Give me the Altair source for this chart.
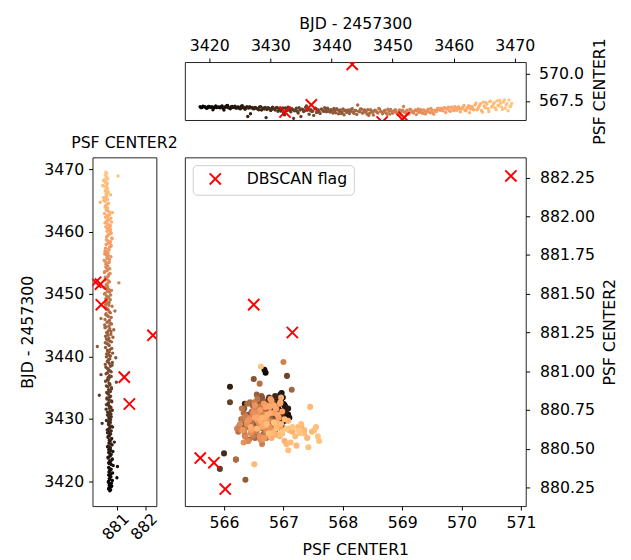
import altair as alt
import pandas as pd

# ---- time series (BJD - 2457300), PSF centre 1 and 2 ----
# first pass of samples
t_a = [3418.5, 3418.8, 3419.1, 3419.4, 3419.7, 3420.0, 3420.3, 3420.6, 3420.9, 3421.2,
       3421.5, 3421.8, 3422.1, 3422.4, 3422.7, 3423.0, 3423.3, 3423.6, 3423.9, 3424.2,
       3424.5, 3424.8, 3425.1, 3425.4, 3425.7, 3426.0, 3426.3, 3426.6, 3426.9, 3427.2,
       3427.5, 3427.8, 3428.1, 3428.4, 3428.7, 3429.0, 3429.3, 3429.6, 3429.9, 3430.2,
       3430.5, 3430.8, 3431.1, 3431.4, 3431.7, 3432.0, 3432.3, 3432.6, 3432.9, 3433.2,
       3433.5, 3433.8, 3434.1, 3434.4, 3434.7, 3435.0, 3435.3, 3435.6, 3435.9, 3436.2,
       3436.5, 3436.8, 3437.1, 3437.4, 3437.7, 3438.0, 3438.3, 3438.6, 3438.9, 3439.2,
       3439.5, 3439.8, 3440.1, 3440.4, 3440.7, 3441.0, 3441.3, 3441.6, 3441.9, 3442.2,
       3442.5, 3442.8, 3443.1, 3443.4, 3443.7, 3444.0, 3444.3, 3444.6, 3444.9, 3445.2,
       3445.5, 3445.8, 3446.1, 3446.4, 3446.7, 3447.0, 3447.3, 3447.6, 3447.9, 3448.2,
       3448.5, 3448.8, 3449.1, 3449.4, 3449.7, 3450.0, 3450.3, 3450.6, 3450.9, 3451.2,
       3451.5, 3451.8, 3452.1, 3452.4, 3452.7, 3453.0, 3453.3, 3453.6, 3453.9, 3454.2,
       3454.5, 3454.8, 3455.1, 3455.4, 3455.7, 3456.0, 3456.3, 3456.6, 3456.9, 3457.2,
       3457.5, 3457.8, 3458.1, 3458.4, 3458.7, 3459.0, 3459.3, 3459.6, 3459.9, 3460.2,
       3460.5, 3460.8, 3461.1, 3461.4, 3461.7, 3462.0, 3462.3, 3462.6, 3462.9, 3463.2,
       3463.5, 3463.8, 3464.1, 3464.4, 3464.7, 3465.0, 3465.3, 3465.6, 3465.9, 3466.2,
       3466.5, 3466.8, 3467.1, 3467.4, 3467.7, 3468.0, 3468.3, 3468.6, 3468.9, 3469.2,
       3469.5]

c1_a = [566.98, 566.92, 567.02, 566.95, 566.88, 567.00, 566.93, 566.70, 566.97, 566.90,
        566.96, 566.89, 567.05, 566.68, 566.94, 567.10, 566.86, 566.99, 566.91, 567.03,
        566.87, 566.95, 566.80, 567.08, 566.92, 566.84, 566.10, 566.98, 566.88, 566.79,
        566.93, 566.83, 566.71, 566.99, 566.86, 566.77, 566.00, 566.90, 566.81, 566.74,
        566.85, 566.68, 566.92, 566.76, 566.60, 566.88, 566.25, 566.72, 566.95, 566.66,
        566.80, 565.93, 566.70, 566.58, 566.89, 566.10, 566.74, 566.63, 567.06, 566.79,
        566.66, 566.55, 566.20, 566.84, 566.71, 566.48, 566.77, 566.62, 566.90, 566.53,
        566.74, 566.50, 566.65, 566.82, 566.43, 566.70, 566.58, 566.36, 566.78, 566.61,
        566.47, 566.69, 566.55, 566.80, 566.38, 566.63, 567.14, 566.52, 566.75, 566.44,
        566.66, 566.33, 566.20, 566.72, 566.49, 566.60, 566.60, 566.41, 566.77, 566.54,
        566.46, 566.68, 566.30, 566.57, 566.74, 566.39, 566.62, 566.51, 566.28, 566.70,
        566.55, 567.00, 566.43, 566.66, 566.35, 566.72, 566.50, 566.61, 566.27, 566.79,
        566.58, 566.45, 566.70, 566.33, 566.64, 566.52, 566.83, 566.40, 566.68, 566.56,
        566.84, 566.67, 566.72, 566.88, 566.46, 566.80, 566.65, 566.92, 566.70, 566.98,
        566.66, 566.98, 566.52, 566.80, 567.10, 566.61, 566.88, 566.45, 567.02, 566.73,
        567.15, 566.70, 566.94, 567.25, 566.51, 567.05, 567.35, 566.82, 567.45, 566.96,
        567.20, 566.88, 567.52, 567.08, 567.30, 566.75, 567.60, 567.15, 566.62, 566.98,
        567.28]

c2_a = [880.74, 880.70, 880.78, 880.72, 880.80, 880.69, 880.75, 880.99, 880.73, 880.77,
        880.71, 880.76, 880.72, 881.01, 880.79, 880.70, 880.74, 880.83, 880.68, 880.77,
        880.73, 880.85, 880.70, 880.76, 880.69, 880.78, 880.90, 880.72, 880.81, 880.68,
        880.74, 880.66, 880.79, 880.70, 880.84, 880.72, 880.47, 880.69, 880.77, 880.71,
        880.70, 880.78, 880.66, 880.83, 880.72, 880.74, 880.62, 880.69, 880.80, 880.64,
        880.73, 880.37, 880.67, 880.76, 880.70, 880.80, 880.62, 880.74, 880.97, 880.68,
        880.71, 880.79, 880.43, 880.66, 880.75, 880.68, 880.60, 880.82, 880.72, 880.65,
        880.69, 880.95, 880.76, 880.63, 880.72, 880.66, 880.81, 880.30, 880.70, 880.58,
        880.74, 880.62, 880.85, 880.68, 880.66, 880.78, 880.88, 880.57, 880.71, 880.80,
        880.64, 880.73, 880.43, 880.69, 880.60, 880.76, 880.92, 880.67, 880.58, 880.71,
        880.66, 880.59, 880.76, 880.70, 880.63, 880.55, 880.73, 880.80, 880.62, 880.67,
        880.61, 881.06, 880.70, 880.64, 880.58, 880.69, 880.75, 880.56, 880.66, 880.62,
        880.67, 880.60, 880.72, 880.54, 880.65, 880.78, 880.61, 880.68, 880.57, 880.70,
        880.73, 880.79, 880.68, 880.76, 880.62, 880.81, 880.65, 880.70, 880.77, 880.74,
        880.65, 880.60, 880.70, 880.57, 880.63, 880.68, 880.59, 880.64, 880.55, 880.72,
        880.61, 880.66, 880.58, 880.64, 880.40, 880.53, 880.62, 880.60, 880.77, 880.66,
        880.58, 880.63, 880.62, 880.49, 880.66, 880.60, 880.55, 880.64, 881.03, 880.61,
        880.60]

# second pass of samples, interleaved in time
t_b = [3418.65, 3418.95, 3419.25, 3419.55, 3419.85, 3420.15, 3420.45, 3420.75, 3421.05, 3421.35,
       3421.65, 3421.95, 3422.25, 3422.55, 3422.85, 3423.15, 3423.45, 3423.75, 3424.05, 3424.35,
       3424.65, 3424.95, 3425.25, 3425.55, 3425.85, 3426.15, 3426.45, 3426.75, 3427.05, 3427.35,
       3427.65, 3427.95, 3428.25, 3428.55, 3428.85, 3429.15, 3429.45, 3429.75, 3430.05, 3430.35,
       3430.65, 3430.95, 3431.25, 3431.55, 3431.85, 3432.15, 3432.45, 3432.75, 3433.05, 3433.35,
       3433.65, 3433.95, 3434.25, 3434.55, 3434.85, 3435.15, 3435.45, 3435.75, 3436.05, 3436.35,
       3436.65, 3436.95, 3437.25, 3437.55, 3437.85, 3438.15, 3438.45, 3438.75, 3439.05, 3439.35,
       3439.65, 3439.95, 3440.25, 3440.55, 3440.85, 3441.15, 3441.45, 3441.75, 3442.05, 3442.35,
       3442.65, 3442.95, 3443.25, 3443.55, 3443.85, 3444.15, 3444.45, 3444.75, 3445.05, 3445.35,
       3445.65, 3445.95, 3446.25, 3446.55, 3446.85, 3447.15, 3447.45, 3447.75, 3448.05, 3448.35,
       3448.65, 3448.95, 3449.25, 3449.55, 3449.85, 3450.15, 3450.45, 3450.75, 3451.05, 3451.35,
       3451.65, 3451.95, 3452.25, 3452.55, 3452.85, 3453.15, 3453.45, 3453.75, 3454.05, 3454.35,
       3454.65, 3454.95, 3455.25, 3455.55, 3455.85, 3456.15, 3456.45, 3456.75, 3457.05, 3457.35,
       3457.65, 3457.95, 3458.25, 3458.55, 3458.85, 3459.15, 3459.45, 3459.75, 3460.05, 3460.35,
       3460.65, 3460.95, 3461.25, 3461.55, 3461.85, 3462.15, 3462.45, 3462.75, 3463.05, 3463.35,
       3463.65, 3463.95, 3464.25, 3464.55, 3464.85, 3465.15, 3465.45, 3465.75, 3466.05, 3466.35,
       3466.65, 3466.95, 3467.25, 3467.55, 3467.85, 3468.15, 3468.45, 3468.75, 3469.05, 3469.35]

c1_b = [566.90, 567.04, 566.96, 566.85, 567.01, 566.93, 566.99, 566.87, 567.06, 566.94,
        566.92, 567.00, 566.84, 566.97, 567.08, 566.90, 566.80, 567.02, 566.95, 566.86,
        566.96, 566.82, 567.04, 566.89, 566.75, 566.98, 566.86, 566.35, 566.93, 566.81,
        566.88, 566.78, 566.97, 566.69, 566.84, 566.91, 566.73, 566.86, 566.64, 566.95,
        566.78, 566.90, 566.57, 566.82, 566.70, 566.45, 566.87, 566.63, 566.79, 566.52,
        566.74, 566.61, 566.85, 566.42, 566.68, 566.77, 566.55, 566.93, 566.66, 566.30,
        566.71, 566.59, 566.82, 566.46, 566.67, 566.38, 566.75, 566.56, 566.64, 566.86,
        566.55, 566.72, 566.41, 566.63, 566.80, 566.34, 566.69, 566.51, 566.26, 566.66,
        566.60, 566.37, 566.74, 566.48, 566.65, 566.29, 566.58, 566.79, 566.42, 566.69,
        566.52, 566.71, 566.39, 566.60, 566.24, 566.66, 566.47, 566.82, 566.56, 566.35,
        566.63, 566.42, 566.76, 566.31, 566.58, 566.49, 566.71, 566.36, 566.64, 566.22,
        566.68, 566.48, 566.61, 566.34, 566.76, 566.53, 566.41, 566.70, 566.59, 566.45,
        566.71, 566.38, 566.60, 566.50, 566.77, 566.43, 566.65, 566.31, 566.57, 566.80,
        566.72, 566.83, 566.61, 566.89, 566.78, 566.95, 566.56, 566.94, 566.63, 566.87,
        566.90, 566.77, 566.86, 566.95, 566.69, 566.84, 567.08, 566.78, 566.96, 566.70,
        567.30, 566.78, 567.10, 566.64, 567.40, 566.90, 567.22, 566.55, 567.48, 567.02,
        567.35, 566.72, 567.12, 567.55, 566.95, 567.42, 566.84, 567.25, 567.58, 567.05]

c2_b = [880.77, 880.71, 880.81, 880.74, 880.69, 880.83, 880.72, 880.78, 880.70, 880.84,
        880.73, 880.79, 880.70, 880.86, 880.72, 880.76, 880.81, 880.68, 880.74, 880.79,
        880.70, 880.77, 880.74, 880.66, 880.82, 880.71, 880.75, 880.79, 880.68, 880.73,
        880.77, 880.70, 880.65, 880.74, 880.80, 880.69, 880.76, 880.62, 880.72, 880.79,
        880.66, 880.73, 880.75, 880.61, 880.78, 880.70, 880.68, 880.81, 880.72, 880.64,
        880.77, 880.69, 880.63, 880.72, 880.80, 880.67, 880.74, 880.71, 880.59, 880.66,
        880.68, 880.73, 880.61, 880.79, 880.70, 880.64, 880.76, 880.58, 880.83, 880.69,
        880.74, 880.62, 880.70, 880.84, 880.67, 880.76, 880.59, 880.72, 880.65, 880.80,
        880.66, 880.71, 880.59, 880.78, 880.63, 880.69, 880.74, 880.61, 880.56, 880.75,
        880.70, 880.57, 880.79, 880.65, 880.61, 880.73, 880.68, 880.62, 880.82, 880.59,
        880.72, 880.64, 880.60, 880.69, 880.77, 880.58, 880.66, 880.71, 880.53, 880.63,
        880.65, 880.73, 880.57, 880.62, 880.68, 880.70, 880.55, 880.64, 880.74, 880.60,
        880.62, 880.66, 880.58, 880.73, 880.64, 880.69, 880.56, 880.62, 880.71, 880.59,
        880.78, 880.61, 880.75, 880.67, 880.82, 880.63, 880.70, 880.79, 880.64, 880.76,
        880.72, 880.77, 880.66, 880.80, 880.70, 880.78, 880.68, 880.73, 880.83, 880.65,
        880.65, 880.58, 880.62, 880.70, 880.57, 880.66, 880.52, 880.63, 880.61, 880.69,
        880.60, 880.66, 880.54, 880.64, 880.59, 880.51, 880.67, 880.62, 880.58, 880.63]

# ---- DBSCAN-flagged points ----
flag_t = [3432.4, 3436.7, 3443.4, 3448.3, 3451.6, 3451.9]
flag_c1 = [566.50, 567.15, 570.83, 565.60, 565.83, 566.02]
flag_c2 = [881.43, 881.25, 882.26, 880.44, 880.41, 880.24]
flag_label = ["DBSCAN flag"] * len(flag_t)

pts = pd.concat([pd.DataFrame({"t": t_a, "c1": c1_a, "c2": c2_a}),
                 pd.DataFrame({"t": t_b, "c1": c1_b, "c2": c2_b})]).sort_values("t")
flags = pd.DataFrame({"t": flag_t, "c1": flag_c1, "c2": flag_c2, "label": flag_label})

T_DOM = [3416.0, 3471.8]
T_DOM_LEFT = [3416.05, 3471.9]
C1_TOP = [565.78, 571.04]
C1_MAIN = [565.34, 571.08]
C2_DOM = [880.13, 882.38]

FONT = "DejaVu Sans"
XPATH = "M-1,-1L1,1M-1,1L1,-1"
copper = alt.Scale(domain=[3418.5, 3459.3, 3469.5],
                   range=["#000000", "#ffa065", "#ffc77f"], interpolate="rgb")
col = alt.Color("t:Q", scale=copper, legend=None)

# ---- spacer (top-left empty cell) ----
spacer = alt.Chart(pd.DataFrame({"a": [0]})).mark_point(opacity=0).encode(
    x=alt.X("a:Q", axis=None), y=alt.Y("a:Q", axis=None)
).properties(width=65, height=59, view=alt.ViewBackground(stroke="transparent"))

# ---- top panel: time vs centre 1 ----
tx = alt.X("t:Q", scale=alt.Scale(domain=T_DOM, nice=False, zero=False),
           axis=alt.Axis(orient="top", values=[3420, 3430, 3440, 3450, 3460, 3470],
                         format="d", title="BJD - 2457300", titlePadding=6))
ty = alt.Y("c1:Q", scale=alt.Scale(domain=C1_TOP, nice=False, zero=False),
           axis=alt.Axis(orient="right", values=[567.5, 570.0], format=".1f",
                         labelPadding=9,
                         title="PSF CENTER1", titleAngle=270, titleBaseline="top",
                         titlePadding=8))
top = alt.layer(
    alt.Chart(pts).mark_circle(size=12, opacity=1, clip=True).encode(x=tx, y=ty, color=col),
    alt.Chart(flags).mark_point(shape=XPATH, filled=False, size=130, strokeWidth=2,
                                opacity=1, clip=True).encode(
        x=tx, y=ty, stroke=alt.value("#ff0000")),
).properties(width=347, height=59)

# ---- left panel: centre 2 vs time ----
lx = alt.X("c2:Q", scale=alt.Scale(domain=C2_DOM, nice=False, zero=False),
           axis=alt.Axis(values=[881, 882], format="d", title=None, labelAngle=315,
                         labelAlign="right", labelBaseline="middle", labelOffset=9,
                         labelPadding=6))
ly = alt.Y("t:Q", scale=alt.Scale(domain=T_DOM_LEFT, nice=False, zero=False),
           axis=alt.Axis(values=[3420, 3430, 3440, 3450, 3460, 3470], format="d",
                         title="BJD - 2457300", titlePadding=8))
left = alt.layer(
    alt.Chart(pts).mark_circle(size=12, opacity=1, clip=True).encode(x=lx, y=ly, color=col),
    alt.Chart(flags).mark_point(shape=XPATH, filled=False, size=130, strokeWidth=2,
                                opacity=1, clip=True).encode(
        x=lx, y=ly, stroke=alt.value("#ff0000")),
).properties(width=65, height=355,
             title=alt.TitleParams("PSF CENTER2", fontSize=16, fontWeight="normal",
                                   font=FONT, offset=6, color="black", anchor="middle"))

# ---- main panel: centre 1 vs centre 2 ----
mx = alt.X("c1:Q", scale=alt.Scale(domain=C1_MAIN, nice=False, zero=False),
           axis=alt.Axis(values=[566, 567, 568, 569, 570, 571], format="d",
                         title="PSF CENTER1", titlePadding=11))
my = alt.Y("c2:Q", scale=alt.Scale(domain=C2_DOM, nice=False, zero=False),
           axis=alt.Axis(orient="right",
                         values=[880.25, 880.5, 880.75, 881.0, 881.25, 881.5, 881.75, 882.0, 882.25],
                         format=".2f", labelPadding=10, title="PSF CENTER2", titleAngle=270,
                         titleBaseline="top", titlePadding=7))
main = alt.layer(
    alt.Chart(pts).mark_circle(size=38, opacity=1, clip=True).encode(x=mx, y=my, color=col),
    alt.Chart(flags).mark_point(shape=XPATH, filled=False, size=130, strokeWidth=2,
                                opacity=1, clip=True).encode(
        x=mx, y=my,
        stroke=alt.Stroke("label:N", scale=alt.Scale(range=["#ff0000"]),
                          legend=alt.Legend(title=None, orient="top-left", offset=8,
                                            padding=6, strokeColor="#cccccc",
                                            fillColor="rgba(255,255,255,0.8)",
                                            cornerRadius=4, labelFontSize=16,
                                            labelFont=FONT, labelColor="black",
                                            symbolType=XPATH, symbolSize=130,
                                            symbolStrokeWidth=2, symbolOffset=9,
                                            labelOffset=24,
                                            symbolStrokeColor="#ff0000",
                                            symbolFillColor="transparent"))),
).properties(width=347, height=355)

chart = alt.concat(spacer, top, left, main, columns=2,
                   spacing={"column": 29, "row": 38}, bounds="flush").resolve_scale(
    stroke="independent").resolve_legend(stroke="independent").properties(
    padding={"left": 11, "top": 2, "right": 5, "bottom": 5}
).configure_axis(
    labelFont=FONT, titleFont=FONT, labelFontSize=16, titleFontSize=16,
    titleFontWeight="normal", labelColor="black", titleColor="black",
    tickColor="black", tickSize=4, tickWidth=1, domain=False, grid=False,
    labelPadding=5
).configure_view(stroke="#222222", strokeWidth=1)

chart.save("out.html", embed_options={"renderer": "svg", "actions": False})
